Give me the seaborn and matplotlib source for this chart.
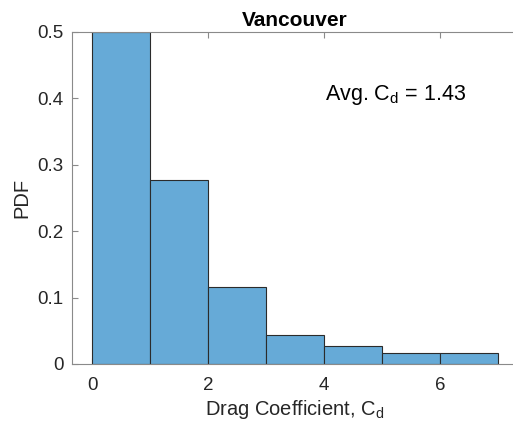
import numpy as np
import pandas as pd
import matplotlib
matplotlib.use("Agg")
import matplotlib.pyplot as plt
import seaborn as sns

# Histogram of drag coefficients (bin width 1, normalised as PDF)
bin_edges = [0, 1, 2, 3, 4, 5, 6, 7]
pdf_values = [0.50, 0.277, 0.116, 0.044, 0.0265, 0.017, 0.017]
avg_cd = 1.43
x_ticks = [0, 2, 4, 6]
y_ticks = [0, 0.1, 0.2, 0.3, 0.4, 0.5]
y_tick_labels = ["0", "0.1", "0.2", "0.3", "0.4", "0.5"]

sns.set_style("white")
plt.rcParams["font.family"] = ["Liberation Sans", "DejaVu Sans"]
plt.rcParams["mathtext.default"] = "regular"

centers = [(a + b) / 2 for a, b in zip(bin_edges[:-1], bin_edges[1:])]
df = pd.DataFrame({"cd": centers, "pdf": pdf_values})

fig = plt.figure(figsize=(5.13, 4.32), dpi=100)
ax = fig.add_axes([72 / 513, 68 / 432, 446 / 513, 332 / 432])

sns.histplot(data=df, x="cd", weights="pdf", bins=bin_edges, stat="count",
             color="#66aad7", alpha=1.0, edgecolor="#2b2b2b", linewidth=0.8, ax=ax)

ax.set_xlim(-0.345, 7.345)
ax.set_ylim(0, 0.5)
ax.set_xticks(x_ticks)
ax.set_yticks(y_ticks)
ax.set_yticklabels(y_tick_labels)

axis_col = "#8a8a8a"
for side in ["left", "bottom", "top", "right"]:
    ax.spines[side].set_color(axis_col)
    ax.spines[side].set_linewidth(0.8)
ax.tick_params(direction="in", length=4, width=0.8, color=axis_col,
               labelsize=13.5, labelcolor="#262626", top=True, right=False,
               bottom=True, left=True)
ax.tick_params(axis="x", pad=9)
ax.tick_params(axis="y", pad=6)

ax.set_xlabel("Drag Coefficient, C$_d$", fontsize=14.5, color="#262626", labelpad=3)
ax.set_ylabel("PDF", fontsize=14.5, color="#262626", labelpad=4)
ax.set_title("Vancouver", fontsize=15, fontweight="bold", color="black", pad=4)

ax.text(4.02, 0.405, f"Avg. C$_d$ = {avg_cd:.2f}", fontsize=15.5, color="black",
        ha="left", va="center")

fig.savefig("out.png", dpi=100)
